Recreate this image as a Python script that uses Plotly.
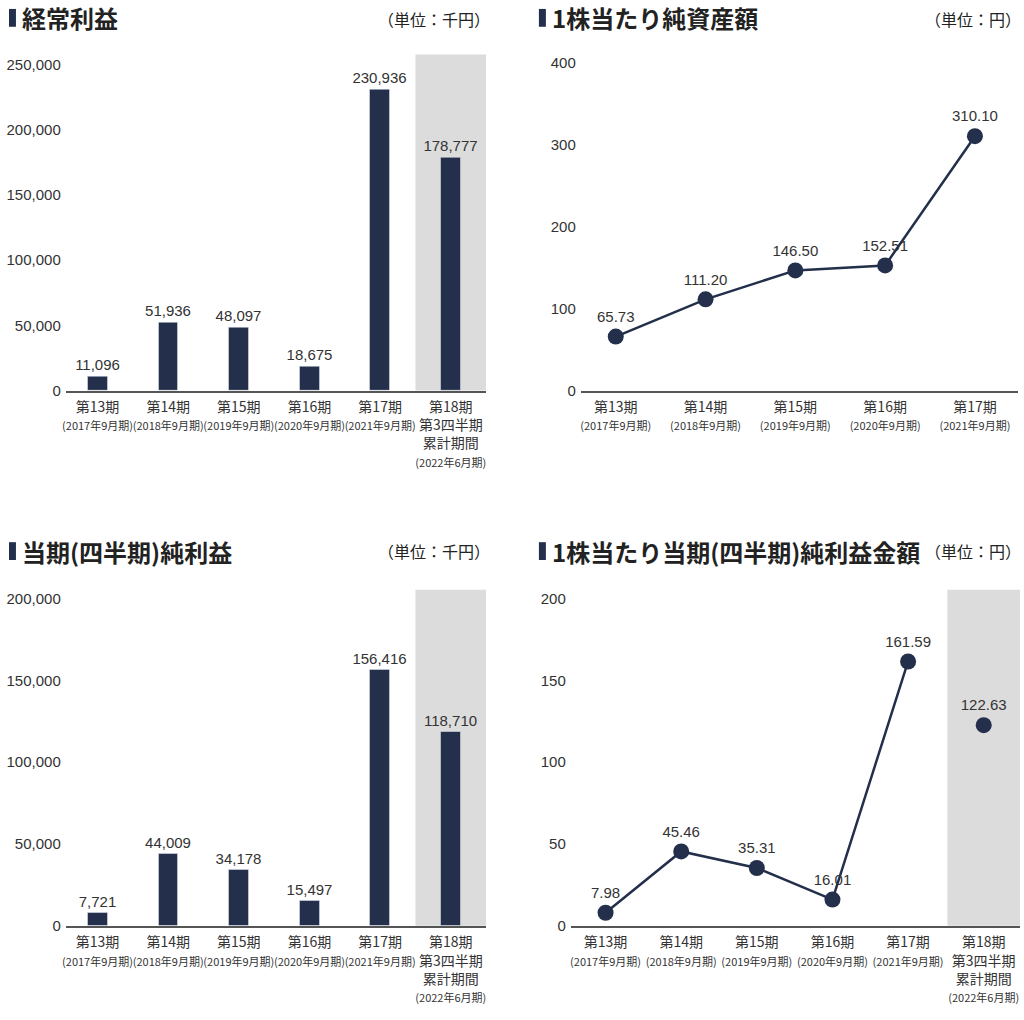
import plotly.graph_objects as go

W, H = 1024, 1020

periods = ["第13期", "第14期", "第15期", "第16期", "第17期", "第18期"]
years = ["(2017年9月期)", "(2018年9月期)", "(2019年9月期)", "(2020年9月期)", "(2021年9月期)", "(2022年6月期)"]
q_extra = "第3四半期<br>累計期間"

ordinary_profit = [11096, 51936, 48097, 18675, 230936, 178777]
bps = [65.73, 111.20, 146.50, 152.51, 310.10]
net_income = [7721, 44009, 34178, 15497, 156416, 118710]
eps = [7.98, 45.46, 35.31, 16.01, 161.59]
eps_q = [122.63]

titles = ["経常利益", "1株当たり純資産額", "当期(四半期)純利益", "1株当たり当期(四半期)純利益金額"]
units = ["（単位：千円）", "（単位：円）", "（単位：千円）", "（単位：円）"]

NAVY = "#232f4b"
GRAY_BAND = "#dcdcdc"
TXT = "#333333"
NUMFONT = "Liberation Sans, Arial, sans-serif"
JPFONT = "Noto Sans CJK JP, sans-serif"

def px(x):
    return x / W

def py(y):
    return 1 - y / H

def xlabels(n, with_q):
    out = []
    for i in range(n):
        if with_q and i == 5:
            out.append(f"<span style='font-size:14px'>{periods[i]}</span><br><span style='font-size:14px'>{q_extra}</span><br><span style='font-size:11px'>{years[i]}</span>")
        else:
            out.append(f"<span style='font-size:14px'>{periods[i]}</span><br><span style='font-size:11px'>{years[i]}</span>")
    return out

fig = go.Figure()

# Panel 1: bars
fig.add_trace(go.Bar(x=list(range(6)), y=ordinary_profit, width=0.28, marker_color=NAVY,
                     text=[f"{v:,}" for v in ordinary_profit], textposition="outside",
                     constraintext="none",
                     textfont=dict(size=15, color=TXT, family=NUMFONT), cliponaxis=False,
                     xaxis="x", yaxis="y", showlegend=False))
# Panel 2: line
fig.add_trace(go.Scatter(x=list(range(5)), y=bps, mode="lines+markers+text",
                         line=dict(color=NAVY, width=2.5), marker=dict(size=16, color=NAVY),
                         text=[f"{v:.2f}" for v in bps], textposition="top center",
                         textfont=dict(size=15, color=TXT, family=NUMFONT), cliponaxis=False,
                         xaxis="x2", yaxis="y2", showlegend=False))
# Panel 3: bars
fig.add_trace(go.Bar(x=list(range(6)), y=net_income, width=0.28, marker_color=NAVY,
                     text=[f"{v:,}" for v in net_income], textposition="outside",
                     constraintext="none",
                     textfont=dict(size=15, color=TXT, family=NUMFONT), cliponaxis=False,
                     xaxis="x3", yaxis="y3", showlegend=False))
# Panel 4: line + separate point
fig.add_trace(go.Scatter(x=list(range(5)), y=eps, mode="lines+markers+text",
                         line=dict(color=NAVY, width=2.5), marker=dict(size=16, color=NAVY),
                         text=[f"{v:.2f}" for v in eps], textposition="top center",
                         textfont=dict(size=15, color=TXT, family=NUMFONT), cliponaxis=False,
                         xaxis="x4", yaxis="y4", showlegend=False))
fig.add_trace(go.Scatter(x=[5], y=eps_q, mode="markers+text",
                         marker=dict(size=16, color=NAVY),
                         text=[f"{v:.2f}" for v in eps_q], textposition="top center",
                         textfont=dict(size=15, color=TXT, family=NUMFONT), cliponaxis=False,
                         xaxis="x4", yaxis="y4", showlegend=False))

def xaxis(dom, rng, n, with_q, anchor):
    return dict(domain=dom, range=rng, anchor=anchor, showgrid=False, zeroline=False,
                showline=True, linecolor="#555555", linewidth=1.5, ticks="", tickangle=0,
                ticklabelstandoff=3,
                tickmode="array", tickvals=list(range(n)), ticktext=xlabels(n, with_q),
                tickfont=dict(family=JPFONT, color=TXT, size=14), fixedrange=True)

def yaxis(dom, rng, tv, fmt, anchor):
    return dict(domain=dom, range=rng, anchor=anchor, showgrid=False, zeroline=False,
                showline=False, ticks="", tickmode="array", tickvals=tv,
                ticklabelstandoff=4,
                ticktext=[fmt(v) for v in tv],
                tickfont=dict(family=NUMFONT, color=TXT, size=15), fixedrange=True)

top_dom = [py(393), py(54)]
bot_dom = [py(933), py(594)]

fig.update_layout(
    width=W, height=H, margin=dict(l=0, r=0, t=0, b=0),
    paper_bgcolor="white", plot_bgcolor="rgba(0,0,0,0)",
    xaxis=xaxis([px(62), px(484)], [-0.45, 5.5], 6, True, "y"),
    yaxis=yaxis(top_dom, [0, 257600], [0, 50000, 100000, 150000, 200000, 250000], lambda v: f"{v:,}", "x"),
    xaxis2=xaxis([px(579), px(1018)], [-0.39, 4.48], 5, False, "y2"),
    yaxis2=yaxis(top_dom, [0, 409.7], [0, 100, 200, 300, 400], lambda v: f"{v}", "x2"),
    xaxis3=xaxis([px(62), px(484)], [-0.45, 5.5], 6, True, "y3"),
    yaxis3=yaxis(bot_dom, [0, 205455], [0, 50000, 100000, 150000, 200000], lambda v: f"{v:,}", "x3"),
    xaxis4=xaxis([px(569), px(1020)], [-0.46, 5.48], 6, True, "y4"),
    yaxis4=yaxis(bot_dom, [0, 205.45], [0, 50, 100, 150, 200], lambda v: f"{v}", "x4"),
    bargap=0,
)

shapes = [
    dict(type="rect", xref="x", yref="y domain", x0=4.5, x1=5.5, y0=0, y1=1, fillcolor=GRAY_BAND, line_width=0, layer="below"),
    dict(type="rect", xref="x3", yref="y3 domain", x0=4.5, x1=5.5, y0=0, y1=1, fillcolor=GRAY_BAND, line_width=0, layer="below"),
    dict(type="rect", xref="x4", yref="y4 domain", x0=4.52, x1=5.48, y0=0, y1=1, fillcolor=GRAY_BAND, line_width=0, layer="below"),
]
title_pos = [(5, 16, 17), (537, 548, 17), (5, 16, 555), (537, 548, 555)]
unit_pos = [(490, 18), (1023, 18), (490, 555), (1023, 555)]
for (bx, tx, ty) in title_pos:
    shapes.append(dict(type="rect", xref="paper", yref="paper", x0=px(bx), x1=px(bx + 7),
                       y0=py(ty + 9), y1=py(ty - 9), fillcolor=NAVY, line_width=0))
fig.update_layout(shapes=shapes)

annotations = []
for (bx, tx, ty), t in zip(title_pos, titles):
    annotations.append(dict(xref="paper", yref="paper", x=px(tx), y=py(ty), xanchor="left", yanchor="middle",
                            text=f"<b>{t}</b>", showarrow=False,
                            font=dict(family=JPFONT, size=24, color="#222222")))
for (ux, uy), u in zip(unit_pos, units):
    annotations.append(dict(xref="paper", yref="paper", x=px(ux), y=py(uy), xanchor="right", yanchor="middle",
                            text=u, showarrow=False,
                            font=dict(family=JPFONT, size=16, color="#222222")))
fig.update_layout(annotations=annotations)

fig.write_html("out.html", config={"displayModeBar": False},
               post_script="document.body.style.margin='0';document.body.style.overflow='hidden';")
